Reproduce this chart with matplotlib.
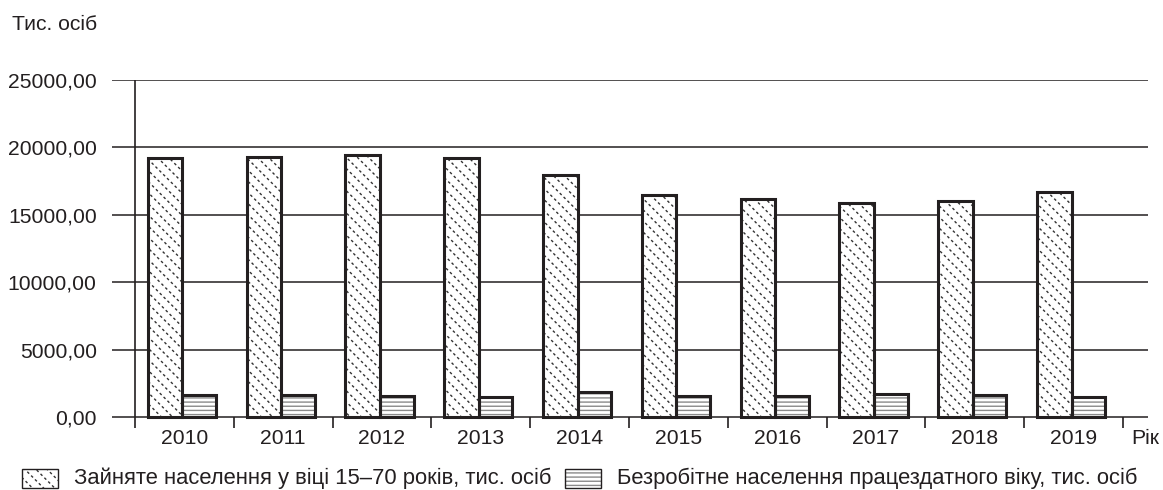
import numpy as np
import matplotlib
matplotlib.use("Agg")
import matplotlib.pyplot as plt
import matplotlib.hatch as mhatch
from matplotlib.path import Path
from matplotlib.patches import Rectangle

# ---- data -------------------------------------------------------------
years = ["2010", "2011", "2012", "2013", "2014",
         "2015", "2016", "2017", "2018", "2019"]
employed = [19250, 19300, 19400, 19230, 17970,
            16480, 16160, 15860, 15990, 16710]
unemployed = [1650, 1650, 1540, 1500, 1840,
              1540, 1540, 1690, 1650, 1470]
y_ticks = [0, 5000, 10000, 15000, 20000, 25000]
y_tick_labels = ["0,00", "5000,00", "10000,00", "15000,00", "20000,00", "25000,00"]
label_employed = "Зайняте населення у віці 15–70 років, тис. осіб"
label_unemployed = "Безробітне населення працездатного віку, тис. осіб"
y_title = "Тис. осіб"
x_title = "Рік"


# ---- dotted backslash hatch --------------------------------------------
class DottedBackslashHatch(mhatch.HatchPatternBase):
    """'\\' hatch drawn as diagonal rows of short dashes (dots)."""

    def __init__(self, hatch, density):
        self.num_lines = hatch.count("\\") * 18
        self.num_dots = 26
        if self.num_lines:
            self.num_vertices = (self.num_lines + 1) * self.num_dots * 2
        else:
            self.num_vertices = 0

    def set_vertices_and_codes(self, vertices, codes):
        steps = np.linspace(-0.5, 0.5, self.num_lines + 1)
        t = np.arange(self.num_dots) / self.num_dots
        s, tt = np.meshgrid(steps, t, indexing="ij")
        s = s.ravel()
        tt = tt.ravel()
        d = 0.009
        vertices[0::2, 0] = s + tt
        vertices[0::2, 1] = 1.0 + s - tt
        vertices[1::2, 0] = s + tt + d
        vertices[1::2, 1] = 1.0 + s - tt - d
        codes[0::2] = Path.MOVETO
        codes[1::2] = Path.LINETO


mhatch._hatch_types = [
    DottedBackslashHatch if cls.__name__ in ("SouthEastHatch", "NorthWestHatch") else cls
    for cls in mhatch._hatch_types
]

ink = "#231f20"
fs = 15.2
fs_legend = 15.8
plt.rcParams["font.family"] = ["Liberation Sans", "DejaVu Sans"]
plt.rcParams["font.size"] = fs
plt.rcParams["text.color"] = ink
plt.rcParams["hatch.linewidth"] = 1.0

W, H = 1163, 490
fig = plt.figure(figsize=(W / 100, H / 100), dpi=100)
ax = fig.add_axes([112 / W, (H - 428) / H, (1148 - 112) / W, (428 - 80) / H])
ax.set_xlim(-0.233, 10.253)
ax.set_ylim(-816, 25000)
for sp in ax.spines.values():
    sp.set_visible(False)

# grid, vertical axis and category separators
for v in y_ticks:
    ax.axhline(v, color=ink, lw=1.1, zorder=1)
ax.axvline(0, color=ink, lw=1.2, zorder=1)
ax.vlines(np.arange(1, len(years) + 1), -816, 0, color=ink, lw=1.2, zorder=1)

x = np.arange(len(years))
w_emp, w_unemp = 0.35, 0.34
off_emp = 0.13
off_unemp = off_emp + w_emp

# bars: hatched fill first, black outline on top
ax.bar(x + off_emp, employed, width=w_emp, align="edge", color="white",
       edgecolor="#333333", linewidth=0, hatch="\\", zorder=2)
ax.bar(x + off_emp, employed, width=w_emp, align="edge", fill=False,
       edgecolor=ink, linewidth=2.2, zorder=3)
ax.bar(x + off_unemp, unemployed, width=w_unemp, align="edge", color="white",
       edgecolor="#8a8a8a", linewidth=0, hatch="----", zorder=2)
ax.bar(x + off_unemp, unemployed, width=w_unemp, align="edge", fill=False,
       edgecolor=ink, linewidth=2.2, zorder=3)

ax.set_yticks(y_ticks, y_tick_labels)
ax.set_xticks(x + 0.5, years)
ax.tick_params(axis="both", length=0, colors=ink, labelsize=fs)
ax.tick_params(axis="y", pad=11)
ax.tick_params(axis="x", pad=1)

ax.annotate(x_title, xy=(10.08, 0), xycoords=ax.get_xaxis_transform(),
            xytext=(0, -1), textcoords="offset points",
            ha="left", va="top", fontsize=fs)
fig.text(12 / W, 1 - 24 / H, y_title, ha="left", va="center", fontsize=fs)

# legend row: swatch + label, laid out left to right
renderer = fig.canvas.get_renderer()
sw_w, sw_h = 36, 19
cursor = 22
for hatch, hc, txt in [("\\", "#333333", label_employed),
                       ("----", "#8a8a8a", label_unemployed)]:
    fig.add_artist(Rectangle((cursor / W, (H - 488) / H), sw_w / W, sw_h / H,
                             transform=fig.transFigure, facecolor="white",
                             edgecolor=hc, linewidth=0, hatch=hatch))
    fig.add_artist(Rectangle((cursor / W, (H - 488) / H), sw_w / W, sw_h / H,
                             transform=fig.transFigure, fill=False,
                             edgecolor=ink, linewidth=1.0))
    t = fig.text((cursor + sw_w + 16) / W, 1 - 478 / H, txt, ha="left",
                 va="center", fontsize=fs_legend)
    cursor = t.get_window_extent(renderer).x1 + 14

fig.savefig("out.png", dpi=100, facecolor="white")
